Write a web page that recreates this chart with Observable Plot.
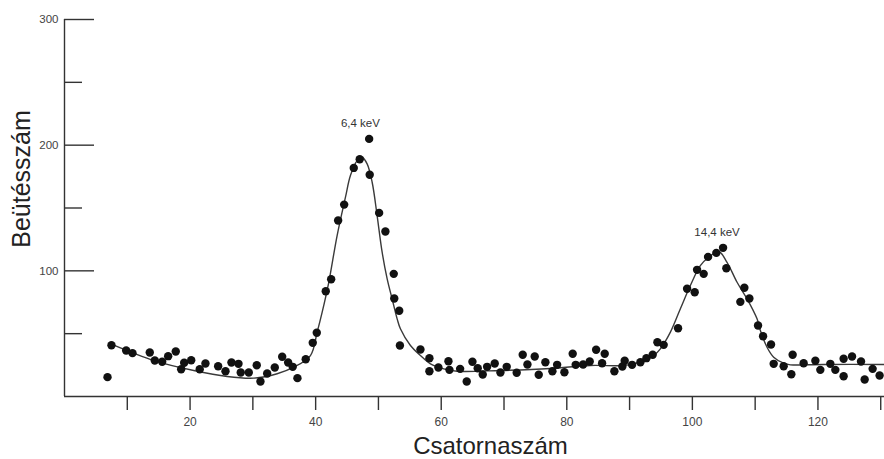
<!DOCTYPE html>
<html>
<head>
<meta charset="utf-8">
<script src="https://cdn.jsdelivr.net/npm/d3@7"></script>
<script src="https://cdn.jsdelivr.net/npm/@observablehq/plot@0.6"></script>
<style>
  html, body { margin: 0; padding: 0; background: #fff; overflow: hidden; }
  #chart svg { display: block; }
</style>
</head>
<body>
<div id="chart"></div>
<script>
// Measured spectrum: channel number and counts
const channel = [6.85, 7.48, 9.82, 10.83, 13.58, 14.38, 15.56, 16.51, 17.72, 18.58, 19.06, 20.18, 21.54, 22.45, 24.47, 25.64, 26.59, 27.71, 28.07, 29.35, 30.62, 31.21, 32.28, 33.49, 34.67, 35.62, 36.35, 37.10, 38.42, 39.54, 40.18,
  41.61, 42.47, 43.58, 44.54, 46.07, 47.02, 48.52, 48.61, 50.11, 51.11, 52.44, 52.52, 53.31, 53.42, 56.69, 58.12, 58.12, 59.55, 61.15, 61.31, 63.01, 64.06, 64.97, 65.81, 66.61, 67.31, 68.52, 69.43, 70.43,
  72.02, 72.98, 73.73, 74.89, 75.53, 76.59, 77.71, 78.46, 79.62, 80.94, 81.42, 82.60, 83.65, 84.67, 85.62, 86.04, 87.58, 88.85, 89.22, 90.40, 91.72, 92.68, 93.68, 94.43, 95.43, 97.72, 99.16, 100.37, 100.75,
  101.80, 102.50, 103.82, 104.89, 105.41, 107.64, 108.28, 109.08, 110.46, 111.26, 112.53, 112.95, 114.54, 115.76, 115.97, 117.72, 119.59, 120.38, 121.97, 122.77, 124.09, 124.09, 125.43, 126.86, 127.44, 128.71, 129.82];
const counts = [15.4, 40.8, 36.6, 34.5, 35.0, 28.6, 27.6, 32.1, 35.8, 21.7, 26.8, 28.9, 21.7, 26.3, 24.1, 20.1, 27.0, 26.0, 19.1, 19.1, 24.9, 11.9, 18.3, 23.1, 31.6, 27.0, 23.6, 14.6, 29.7, 42.7, 50.7,
  83.8, 93.3, 140.0, 152.7, 181.9, 188.8, 205.0, 176.4, 146.1, 131.3, 97.6, 78.0, 68.2, 40.6, 37.4, 30.5, 20.1, 23.1, 28.1, 21.2, 22.0, 11.9, 27.6, 22.5, 17.5, 23.6, 26.3, 19.1, 23.6,
  18.9, 33.2, 25.5, 31.8, 17.3, 27.3, 20.1, 25.2, 19.3, 34.0, 25.2, 25.5, 27.8, 37.2, 26.5, 34.0, 20.1, 23.9, 28.4, 25.2, 27.3, 30.5, 33.2, 43.2, 41.1, 54.3, 85.7, 83.0, 100.8,
  97.6, 111.1, 114.3, 118.3, 102.1, 75.3, 86.5, 78.0, 56.5, 48.0, 41.4, 26.0, 24.1, 17.7, 33.2, 26.5, 28.4, 21.2, 26.0, 21.2, 30.0, 16.1, 31.8, 27.8, 13.5, 22.0, 16.7];

// Fitted curve
const fitChannel = [7.85, 14.22, 20.59, 25.91, 30.14, 33.87, 36.51, 39.17, 40.24, 41.04, 42.09, 43.42, 44.75, 45.54, 46.61, 47.40, 48.20, 49.00, 49.79, 50.59, 51.39, 52.18, 52.98, 53.50, 55.10, 56.69, 58.28, 60.40, 62.53, 69.43, 77.39, 83.76, 89.06, 91.72, 93.84, 94.90, 96.50, 98.09, 99.68, 101.27, 102.60, 104.19, 105.52, 107.12, 108.71, 110.30, 110.83, 111.89, 112.95, 114.54, 115.61, 120.91, 130.57];
const fitCounts = [40.8, 28.6, 20.7, 15.9, 14.6, 18.1, 23.3, 32.6, 51.2, 67.1, 90.9, 128.1, 158.6, 175.8, 187.7, 190.4, 185.1, 170.5, 144.0, 114.8, 93.6, 77.7, 61.8, 53.9, 40.6, 32.6, 26.0, 22.0, 20.1, 20.7, 22.3, 24.7, 24.7, 27.3, 32.6, 37.9, 51.2, 69.8, 88.3, 104.2, 110.8, 115.4, 106.8, 90.9, 77.7, 61.8, 52.5, 39.2, 31.3, 26.5, 25.2, 25.5, 25.5];

// Peak labels
const peakLabels = ["6,4 keV", "14,4 keV"];
const peakX = [47.13, 103.93];
const peakY = [217.4, 130.7];

// Ticks
const yMajorTicks = [100, 200, 300];
const yMinorTicks = [50, 150, 250];
const xTicks = [10, 20, 30, 40, 50, 60, 70, 80, 90, 100, 110, 120, 130];
const xTickLabels = [20, 40, 60, 80, 100, 120];

const xTitle = "Csatornaszám";
const yTitle = "Beütésszám";

const points = channel.map((c, i) => ({c, n: counts[i]}));
const fit = fitChannel.map((c, i) => ({c, n: fitCounts[i]}));
const peaks = peakLabels.map((t, i) => ({t, c: peakX[i], n: peakY[i]}));

const font = "'Liberation Sans', Arial, Helvetica, sans-serif";
const axisColor = "#333";

const chart = Plot.plot({
  width: 884,
  height: 459,
  marginLeft: 64,
  marginRight: 0,
  marginTop: 19,
  marginBottom: 63,
  style: {fontFamily: font, background: "#fff", color: axisColor},
  x: {domain: [0, 130.6]},
  y: {domain: [0, 300]},
  marks: [
    Plot.ruleX([0], {stroke: axisColor, strokeWidth: 1.4}),
    Plot.ruleY([0], {stroke: axisColor, strokeWidth: 1.4}),
    Plot.axisY(yMajorTicks, {tickSize: -30, tickPadding: 36, fontSize: 11.5, fill: "#444", stroke: axisColor, strokeWidth: 1.4, label: null}),
    Plot.axisY(yMinorTicks, {tickSize: -18, tickFormat: () => "", stroke: axisColor, strokeWidth: 1.4, label: null}),
    Plot.axisX(xTicks, {tickSize: 14, tickPadding: 7, fontSize: 12, fill: "#444", stroke: axisColor, strokeWidth: 1.4, label: null,
      tickFormat: d => xTickLabels.includes(d) ? String(d) : ""}),
    Plot.line(fit, {x: "c", y: "n", curve: "catmull-rom", stroke: "#3a3a3a", strokeWidth: 1.4}),
    Plot.dot(points, {x: "c", y: "n", r: 4.2, fill: "#111", stroke: "none"}),
    Plot.text(peaks, {x: "c", y: "n", text: "t", fontSize: 11.5, fill: "#333"}),
    Plot.text([yTitle], {frameAnchor: "left", textAnchor: "middle", lineAnchor: "middle", dx: -43, dy: -29, rotate: -90, fontSize: 25, fill: "#222"}),
    Plot.text([xTitle], {frameAnchor: "bottom", textAnchor: "middle", lineAnchor: "middle", dx: 16, dy: 50, fontSize: 24, fill: "#222"})
  ]
});
document.getElementById("chart").appendChild(chart);
</script>
</body>
</html>
